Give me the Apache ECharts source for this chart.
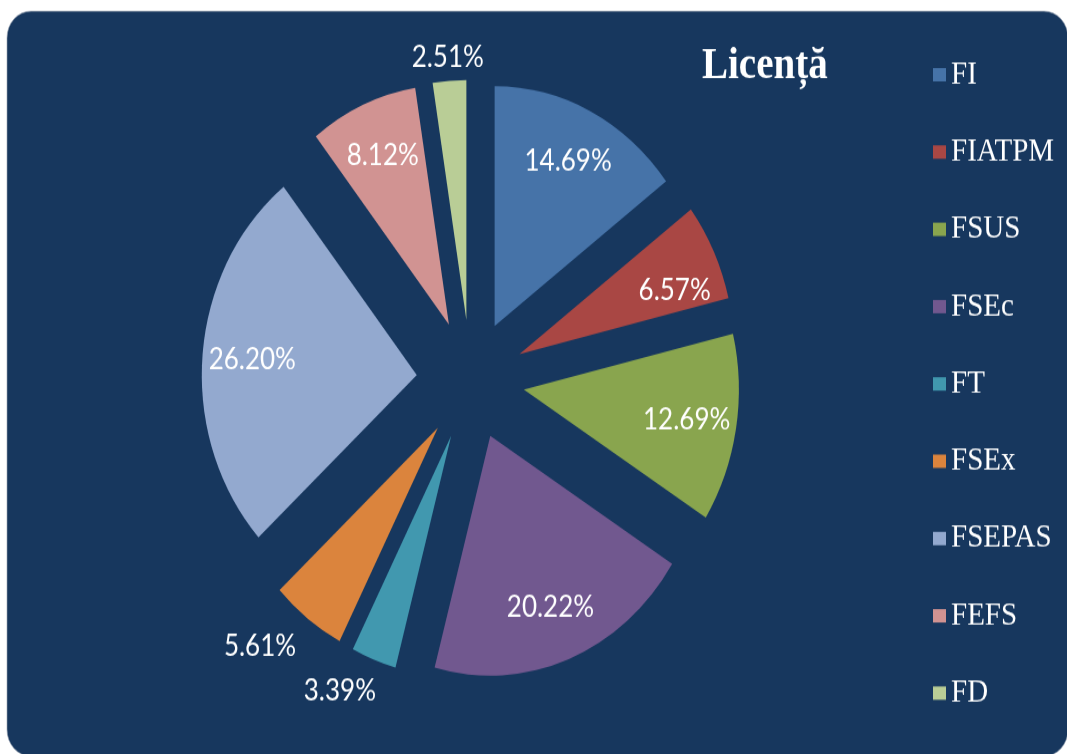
<!DOCTYPE html>
<html lang="ro" style="height: 100%">
<head>
    <meta charset="utf-8"/>
    <meta name="viewport" content="width=device-width, initial-scale=1.0"/>
</head>
<body style="height: 100%; margin: 0; overflow: hidden; background: #ffffff">
<!-- the original picture is stretched vertically, so the chart is drawn flat and scaled in Y -->
<div id="container" style="width: 1067px; height: 676px; transform: scaleY(1.1154); transform-origin: 0 0"></div>

<script type="text/javascript" src="https://cdn.jsdelivr.net/npm/echarts@6/dist/echarts.min.js"></script>

<script type="text/javascript">
    var categories = ["FI", "FIATPM", "FSUS", "FSEc", "FT", "FSEx", "FSEPAS", "FEFS", "FD"];
    var values = [14.69, 6.57, 12.69, 20.22, 3.39, 5.61, 26.20, 8.12, 2.51];
    var colors = ["#4673A8", "#A94744", "#89A54E", "#71588F", "#4198AF", "#DB843D", "#93A9CF", "#D19392", "#B9CD96"];
    // which label group each percentage belongs to (inside the slice, or outside at some distance)
    var labelPlace = ["in", "in2", "in", "in", "out1", "out2", "in", "in", "out3"];

    var dom = document.getElementById("container");
    var myChart = echarts.init(dom, null, {renderer: "canvas"});

    var center = [470.6, 340.5];
    var offset = 54;

    function pieData(place, visible) {
        return categories.map(function (name, i) {
            return {
                name: name,
                value: values[i],
                selected: true,
                itemStyle: {color: visible ? colors[i] : "rgba(0,0,0,0)"},
                label: {show: !visible && labelPlace[i] === place}
            };
        });
    }

    var labelStyle = {
        position: "inside",
        color: "#ffffff",
        fontFamily: "Lato",
        fontSize: 26,
        textBorderWidth: 0,
        formatter: function (p) {
            return p.value.toFixed(2) + "%";
        }
    };

    // invisible copy of the pie, only there to carry labels at a chosen distance
    function labelSeries(place, radius, startAngle) {
        return {
            type: "pie",
            silent: true,
            center: center,
            radius: radius,
            startAngle: startAngle,
            selectedMode: "multiple",
            selectedOffset: offset,
            avoidLabelOverlap: false,
            emphasis: {disabled: true},
            label: labelStyle,
            labelLine: {show: false},
            legendHoverLink: false,
            data: pieData(place, false)
        };
    }

    var option = {
        animation: false,
        color: colors,
        graphic: [{
            type: "rect",
            z: -10,
            silent: true,
            shape: {x: 7, y: 10, width: 1061, height: 668, r: 24},
            style: {fill: "#17375E", stroke: "rgba(150,160,175,0.6)", lineWidth: 1}
        }],
        title: {
            text: "Licență",
            left: 702,
            top: 38,
            padding: 0,
            textStyle: {
                color: "#ffffff",
                fontFamily: "Liberation Serif",
                fontWeight: "bold",
                fontSize: 39,
                lineHeight: 44
            }
        },
        legend: {
            orient: "vertical",
            left: 933,
            top: 52,
            padding: 0,
            itemGap: 39.3,
            itemWidth: 13,
            itemHeight: 12,
            icon: "rect",
            selectedMode: false,
            data: categories,
            textStyle: {
                color: "#ffffff",
                fontFamily: "Liberation Serif",
                fontSize: 29,
                lineHeight: 30
            }
        },
        series: [
            {
                type: "pie",
                center: center,
                radius: 215,
                selectedMode: "multiple",
                selectedOffset: offset,
                emphasis: {disabled: true},
                select: {itemStyle: {borderWidth: 0}},
                label: {show: false},
                labelLine: {show: false},
                data: pieData("", true)
            },
            labelSeries("in", [109, 215], 90),
            labelSeries("in2", [109, 215], 86),
            labelSeries("out1", [215, 287], 86),
            labelSeries("out2", [215, 309], 86),
            labelSeries("out3", [215, 251], 90)
        ]
    };

    myChart.setOption(option);
    window.addEventListener("resize", myChart.resize);
</script>
</body>
</html>
